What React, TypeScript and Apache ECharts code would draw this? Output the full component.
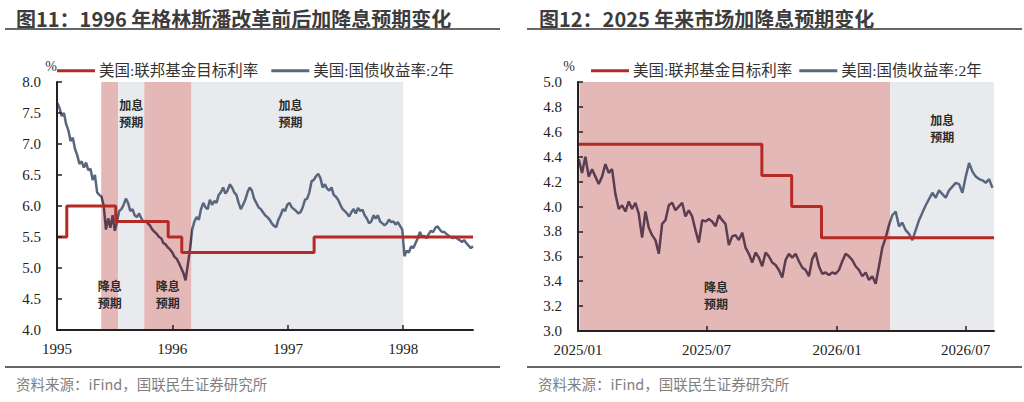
import React, { useEffect, useRef } from "react";
import * as echarts from "echarts";

// ---------- Left chart (1995-1998) ----------
const fed1996Dates = ["1995-01-01", "1995-02-01", "1995-07-06", "1995-12-19", "1996-01-31", "1997-03-25", "1998-08-10"];
const fed1996Values = [5.5, 6.0, 5.75, 5.5, 5.25, 5.5, 5.5];
const yield1996Start = [1995, 1, 2];
const yield1996StepDays = 7;
const yield1996 = [
  7.66, 7.58, 7.45, 7.50, 7.32, 7.22, 7.05, 7.10, 6.92, 6.82,
  6.68, 6.72, 6.62, 6.70, 6.58, 6.60, 6.42, 6.50, 6.22, 6.18,
  6.15, 6.00, 5.62, 5.80, 5.65, 5.85, 5.60, 5.75, 5.92, 5.95,
  6.02, 6.12, 6.05, 5.92, 5.95, 5.85, 5.82, 5.88, 5.80, 5.74,
  5.76, 5.72, 5.68, 5.62, 5.58, 5.55, 5.50, 5.48, 5.40, 5.38,
  5.33, 5.30, 5.25, 5.18, 5.15, 5.08, 5.00, 4.92, 4.80, 5.05,
  5.30, 5.62, 5.75, 5.82, 5.78, 5.95, 6.05, 5.98, 5.95, 6.10,
  6.02, 6.08, 6.05, 6.18, 6.22, 6.30, 6.20, 6.25, 6.35, 6.30,
  6.22, 6.18, 6.05, 5.95, 6.02, 6.10, 6.22, 6.30, 6.25, 6.12,
  6.05, 5.98, 5.95, 5.90, 5.85, 5.82, 5.78, 5.72, 5.68, 5.66,
  5.78, 5.85, 5.95, 5.92, 6.02, 6.05, 5.98, 5.95, 5.92, 5.88,
  5.90, 5.98, 6.10, 6.12, 6.22, 6.40, 6.42, 6.48, 6.52, 6.45,
  6.30, 6.35, 6.28, 6.25, 6.30, 6.18, 6.15, 6.10, 6.02, 5.95,
  5.92, 5.88, 5.83, 5.90, 5.95, 5.88, 5.97, 5.92, 5.94, 5.85,
  5.80, 5.72, 5.75, 5.85, 5.80, 5.85, 5.75, 5.72, 5.69, 5.72,
  5.78, 5.74, 5.75, 5.70, 5.74, 5.68, 5.62, 5.19, 5.28, 5.25,
  5.35, 5.32, 5.40, 5.48, 5.58, 5.50, 5.52, 5.48, 5.55, 5.60,
  5.58, 5.65, 5.67, 5.62, 5.58, 5.58, 5.55, 5.52, 5.50, 5.48,
  5.50, 5.47, 5.45, 5.42, 5.45, 5.40, 5.36, 5.32, 5.35,
];
const axis1996Min = "1995-01-01";
const axis1996Max = "1998-08-10";
const cutBands1996 = [["1995-05-21", "1995-07-14"], ["1995-10-04", "1996-03-02"]];
const hikeBands1996 = [["1995-07-14", "1995-10-04"], ["1996-03-02", "1998-01-01"]];

// ---------- Right chart (2025-2026) ----------
const fed2025Dates = ["2025-01-01", "2025-09-17", "2025-10-29", "2025-12-10", "2026-08-10"];
const fed2025Values = [4.5, 4.25, 4.0, 3.75, 3.75];
const yield2025Start = [2025, 1, 2];
const yield2025StepDays = 4.7;
const yield2025 = [
  4.38, 4.27, 4.40, 4.24, 4.30, 4.24, 4.18, 4.24, 4.34, 4.27,
  4.30, 4.10, 3.98, 4.01, 3.96, 4.04, 3.98, 4.03, 3.94, 3.75,
  3.96, 3.83, 3.77, 3.73, 3.62, 3.86, 3.89, 4.01, 4.03, 3.97,
  4.00, 4.03, 3.92, 3.97, 3.92, 3.81, 3.71, 3.89, 3.88, 3.90,
  3.88, 3.84, 3.93, 3.89, 3.86, 3.69, 3.76, 3.77, 3.73, 3.79,
  3.67, 3.62, 3.55, 3.63, 3.59, 3.52, 3.63, 3.60, 3.55, 3.53,
  3.49, 3.43, 3.57, 3.62, 3.59, 3.62, 3.56, 3.51, 3.49, 3.44,
  3.58, 3.63, 3.52, 3.46, 3.47, 3.45, 3.47, 3.46, 3.49, 3.56,
  3.62, 3.60, 3.57, 3.52, 3.49, 3.44, 3.47, 3.41, 3.44, 3.38,
  3.52, 3.67, 3.75, 3.85, 3.93, 3.96, 3.84, 3.87, 3.81, 3.78,
  3.73, 3.81, 3.89, 3.95, 4.01, 4.06, 4.11, 4.07, 4.13, 4.10,
  4.07, 4.13, 4.16, 4.19, 4.18, 4.11, 4.24, 4.35, 4.28, 4.24,
  4.22, 4.21, 4.19, 4.22, 4.15,
];
const axis2025Min = "2025-01-01";
const axis2025Max = "2026-08-10";
const cutBands2025 = [["2025-01-03", "2026-03-17"]];
const hikeBands2025 = [["2026-03-17", "2026-08-10"]];

const yTicks1996 = { min: 4, max: 8, interval: 0.5 };
const yTicks2025 = { min: 3, max: 5, interval: 0.2 };

const fedName = "美国:联邦基金目标利率";
const yieldName = "美国:国债收益率:2年";
const title1 = "图11：1996 年格林斯潘改革前后加降息预期变化";
const title2 = "图12：2025 年来市场加降息预期变化";
const sourceText = "资料来源：iFind，国联民生证券研究所";
const cutLabel = "降息\n预期";
const hikeLabel = "加息\n预期";

const RED = "#b52a24";
const BLUE = "#58667e";
const PURPLE = "#5a3d50";
const PINK = "#e4b8b6";
const GRAY = "#e8eaee";
const SERIF = "'Liberation Serif', 'Noto Sans CJK SC', serif";
const SANS = "'Noto Sans CJK SC', 'Noto Sans', sans-serif";

function ts(s: string): number {
  const [y, m, d] = s.split("-").map(Number);
  return new Date(y, m - 1, d).getTime();
}

function buildSeries(start: number[], stepDays: number, values: number[]) {
  const t0 = new Date(start[0], start[1] - 1, start[2]).getTime();
  return values.map((v, i) => [t0 + i * stepDays * 86400000, v]);
}

function axisX(gridIndex: number, min: string, max: string, isYear: boolean) {
  const day = 86400000;
  return {
    type: "time",
    gridIndex,
    min: ts(min),
    max: ts(max),
    minInterval: isYear ? 365 * day : 181 * day,
    maxInterval: isYear ? 366 * day : 184 * day,
    z: 6,
    axisLine: { show: true, lineStyle: { color: "#222", width: 2 } },
    axisTick: { show: true, inside: true, length: 5, lineStyle: { color: "#222", width: 1.5 } },
    splitLine: { show: false },
    axisLabel: {
      color: "#222",
      fontFamily: SERIF,
      fontSize: 15,
      margin: 11,
      hideOverlap: false,
      formatter: (v: number) => {
        const d = new Date(v);
        if (isYear) return String(d.getFullYear());
        const m = d.getMonth() + 1;
        return d.getFullYear() + "/" + (m < 10 ? "0" + m : String(m));
      },
    },
  };
}

function axisY(gridIndex: number, t: { min: number; max: number; interval: number }, padRight: number) {
  return {
    type: "value",
    gridIndex,
    min: t.min,
    max: t.max,
    interval: t.interval,
    z: 6,
    name: "%",
    nameLocation: "end",
    nameGap: 9,
    nameTextStyle: {
      fontFamily: SERIF,
      fontSize: 14,
      color: "#333",
      align: "right",
      verticalAlign: "bottom",
      padding: [0, padRight, 0, 0],
    },
    axisLine: { show: true, lineStyle: { color: "#222", width: 2 } },
    axisTick: { show: true, inside: true, length: 5, lineStyle: { color: "#222", width: 1.5 } },
    splitLine: { show: false },
    axisLabel: {
      color: "#222",
      fontFamily: SERIF,
      fontSize: 15,
      margin: 16,
      formatter: (v: number) => v.toFixed(1),
    },
  };
}

const bandLabel = (text: string, position: string, distance: number, offset: number[]) => ({
  show: true,
  formatter: text,
  position,
  distance,
  offset,
  fontFamily: SANS,
  fontWeight: "bold",
  fontSize: 12,
  lineHeight: 17,
  color: "#2b2b2b",
});

function bands(
  cut: string[][],
  hike: string[][],
  cutLabelCfg: (i: number) => any,
  hikeLabelCfg: (i: number) => any
) {
  const out: any[] = [];
  cut.forEach((b, i) => {
    out.push([
      { xAxis: ts(b[0]), itemStyle: { color: PINK }, label: cutLabelCfg(i) },
      { xAxis: ts(b[1]) },
    ]);
  });
  hike.forEach((b, i) => {
    out.push([
      { xAxis: ts(b[0]), itemStyle: { color: GRAY }, label: hikeLabelCfg(i) },
      { xAxis: ts(b[1]) },
    ]);
  });
  return out;
}

function legendCfg(left: number, gap: number) {
  return {
    left,
    top: 63,
    padding: 0,
    icon: "rect",
    itemWidth: 38,
    itemHeight: 3,
    itemGap: gap,
    textStyle: { fontFamily: SERIF, fontSize: 15.5, color: "#333", padding: [0, 0, 0, -1] },
    data: [
      { name: fedName, itemStyle: { color: RED } },
      { name: yieldName, itemStyle: { color: BLUE } },
    ],
  };
}

export default function App() {
  const ref = useRef<HTMLDivElement>(null);

  useEffect(() => {
    if (!ref.current) return;
    const chart = echarts.init(ref.current, undefined, { renderer: "svg" });

    const fedLeft = fed1996Dates.map((d, i) => [ts(d), fed1996Values[i]]);
    const fedRight = fed2025Dates.map((d, i) => [ts(d), fed2025Values[i]]);
    const yLeft = buildSeries(yield1996Start, yield1996StepDays, yield1996);
    const yRight = buildSeries(yield2025Start, yield2025StepDays, yield2025);

    const option: any = {
      animation: false,
      backgroundColor: "#ffffff",
      grid: [
        { left: 57, right: 551, top: 82, bottom: 72 },
        { left: 578, right: 30, top: 82, bottom: 71 },
      ],
      legend: [legendCfg(57, 13), legendCfg(591, 7)],
      xAxis: [axisX(0, axis1996Min, axis1996Max, true), axisX(1, axis2025Min, axis2025Max, false)],
      yAxis: [axisY(0, yTicks1996, 0), axisY(1, yTicks2025, 3)],
      visualMap: [
        {
          type: "piecewise",
          show: false,
          seriesIndex: 1,
          dimension: 0,
          pieces: cutBands1996.map((b) => ({ gte: ts(b[0]), lt: ts(b[1]), color: PURPLE })),
          outOfRange: { color: BLUE },
        },
        {
          type: "piecewise",
          show: false,
          seriesIndex: 3,
          dimension: 0,
          pieces: cutBands2025.map((b) => ({ gte: ts(b[0]), lt: ts(b[1]), color: PURPLE })),
          outOfRange: { color: BLUE },
        },
      ],
      series: [
        {
          name: fedName,
          type: "line",
          xAxisIndex: 0,
          yAxisIndex: 0,
          step: "end",
          showSymbol: false,
          symbol: "none",
          z: 4,
          lineStyle: { color: RED, width: 3 },
          itemStyle: { color: RED },
          data: fedLeft,
        },
        {
          name: yieldName,
          type: "line",
          xAxisIndex: 0,
          yAxisIndex: 0,
          showSymbol: false,
          symbol: "none",
          z: 3,
          lineStyle: { width: 2.5 },
          data: yLeft,
          markArea: {
            silent: true,
            z: 1,
            data: bands(
              cutBands1996,
              hikeBands1996,
              () => bandLabel(cutLabel, "insideBottom", 19, [0, 0]),
              (i) => bandLabel(hikeLabel, "insideTop", 14, [i === 1 ? -7 : 0, 0])
            ),
          },
        },
        {
          name: fedName,
          type: "line",
          xAxisIndex: 1,
          yAxisIndex: 1,
          step: "end",
          showSymbol: false,
          symbol: "none",
          z: 4,
          lineStyle: { color: RED, width: 3 },
          itemStyle: { color: RED },
          data: fedRight,
        },
        {
          name: yieldName,
          type: "line",
          xAxisIndex: 1,
          yAxisIndex: 1,
          showSymbol: false,
          symbol: "none",
          z: 3,
          lineStyle: { width: 2.5 },
          data: yRight,
          markArea: {
            silent: true,
            z: 1,
            data: bands(
              cutBands2025,
              hikeBands2025,
              () => bandLabel(cutLabel, "insideBottom", 19, [-19, 0]),
              () => bandLabel(hikeLabel, "insideTop", 29, [0, 0])
            ),
          },
        },
      ],
      graphic: [
        {
          type: "text",
          x: 16,
          y: 18,
          style: { text: title1, fontFamily: SANS, fontWeight: "bold", fontSize: 20, fill: "#3c3c3c", verticalAlign: "middle" },
        },
        {
          type: "text",
          x: 539,
          y: 18,
          style: { text: title2, fontFamily: SANS, fontWeight: "bold", fontSize: 20, fill: "#3c3c3c", verticalAlign: "middle" },
        },
        { type: "line", shape: { x1: 5, y1: 29, x2: 500, y2: 29 }, style: { stroke: "#666", lineWidth: 2 } },
        { type: "line", shape: { x1: 527, y1: 29, x2: 1022, y2: 29 }, style: { stroke: "#666", lineWidth: 2 } },
        { type: "line", shape: { x1: 5, y1: 367, x2: 500, y2: 367 }, style: { stroke: "#666", lineWidth: 2 } },
        { type: "line", shape: { x1: 527, y1: 367, x2: 1022, y2: 367 }, style: { stroke: "#666", lineWidth: 2 } },
        {
          type: "text",
          x: 16,
          y: 383,
          style: { text: sourceText, fontFamily: SANS, fontSize: 14.5, fill: "#808080", verticalAlign: "middle" },
        },
        {
          type: "text",
          x: 538,
          y: 383,
          style: { text: sourceText, fontFamily: SANS, fontSize: 14.5, fill: "#808080", verticalAlign: "middle" },
        },
      ],
    };

    chart.setOption(option);
    return () => chart.dispose();
  }, []);

  return (
    <div
      ref={ref}
      style={{ position: "fixed", left: 0, top: 0, width: 1024, height: 402, background: "#fff" }}
    />
  );
}
